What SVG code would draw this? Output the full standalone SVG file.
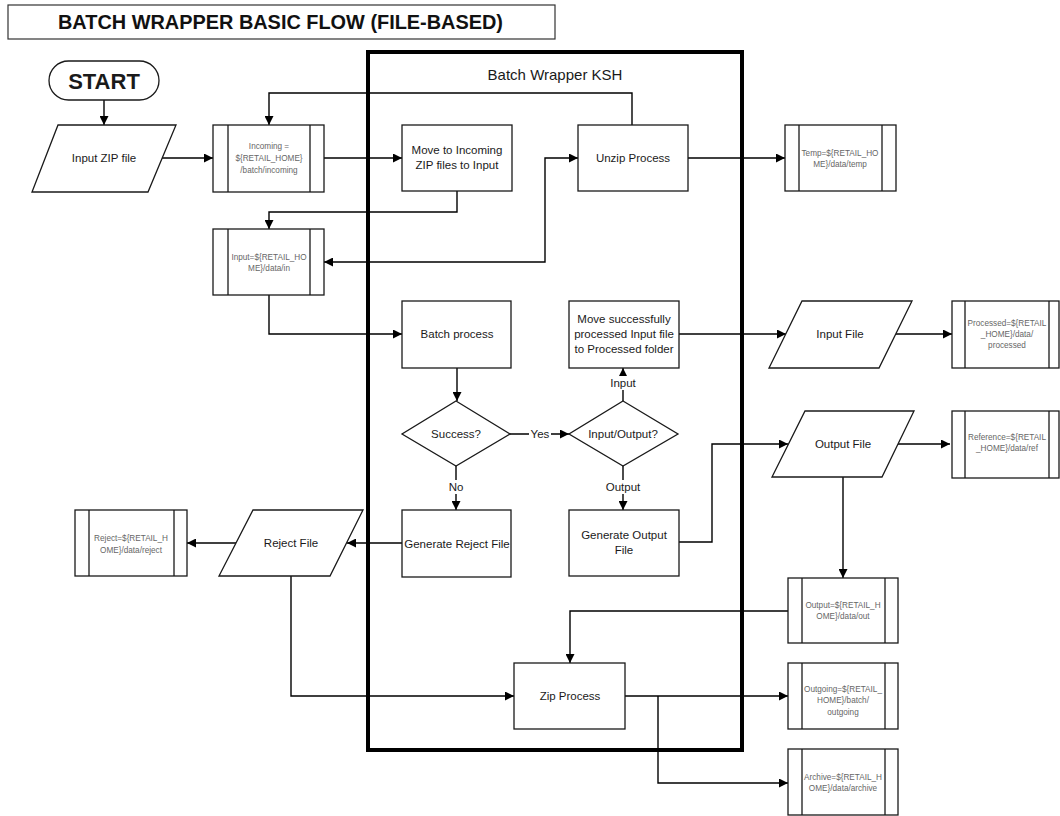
<svg xmlns="http://www.w3.org/2000/svg" width="1060" height="816" viewBox="0 0 1060 816">
  <defs>
    <marker id="arrow" viewBox="0 0 10 10" refX="10" refY="5" markerWidth="9" markerHeight="9" markerUnits="userSpaceOnUse" orient="auto-start-reverse">
      <path d="M0,0 L10,5 L0,10 Z" fill="#000"/>
    </marker>
    <style>
      .shape { fill: #fff; stroke: #1a1a1a; stroke-width: 1.3; }
      .bar { stroke: #1a1a1a; stroke-width: 1.3; fill: none; }
      .conn { fill: none; stroke: #000; stroke-width: 1.4; marker-end: url(#arrow); }
      .lbl { font-family: "Liberation Sans", Arial, sans-serif; font-size: 11.5px; fill: #1a1a1a; text-anchor: middle; dominant-baseline: central; }
      .small { font-family: "Liberation Sans", Arial, sans-serif; font-size: 8.2px; fill: #666; text-anchor: middle; dominant-baseline: central; }
      .edge { font-family: "Liberation Sans", Arial, sans-serif; font-size: 11.5px; fill: #1a1a1a; text-anchor: middle; dominant-baseline: central; }
    </style>
  </defs>

  <rect width="1060" height="816" fill="#fff"/>

  <!-- title banner -->
  <g id="title">
    <rect x="8" y="5" width="547" height="34" fill="#fff" stroke="#333" stroke-width="1.2"/>
    <text x="58" y="29" font-family="'Liberation Sans', Arial, sans-serif" font-weight="bold" font-size="20" fill="#111" textLength="445" lengthAdjust="spacingAndGlyphs">BATCH WRAPPER BASIC FLOW (FILE-BASED)</text>
  </g>

  <!-- swimlane container -->
  <g id="ksh-container">
    <rect x="368" y="52" width="374" height="698" fill="none" stroke="#000" stroke-width="4"/>
    <text x="555" y="74" class="lbl" style="font-size:15px">Batch Wrapper KSH</text>
  </g>

  <!-- connectors -->
  <g id="connectors">
    <path class="conn" d="M104,100 V125"/>
    <path class="conn" d="M162,158 H213"/>
    <path class="conn" d="M324,158 H402"/>
    <path class="conn" d="M632,125 V93 H269 V125"/>
    <path class="conn" d="M457,191 V212 H269 V229"/>
    <path class="conn" d="M324,262 H545 V158 H578" style="marker-start:url(#arrow)"/>
    <path class="conn" d="M688,158 H785"/>
    <path class="conn" d="M269,295 V334 H402"/>
    <path class="conn" d="M457,368 V401"/>
    <path class="conn" d="M510,434 H569"/>
    <path class="conn" d="M623,401 V368"/>
    <path class="conn" d="M623,466 V510"/>
    <path class="conn" d="M456,466 V510"/>
    <path class="conn" d="M679,334 H786"/>
    <path class="conn" d="M896,334 H952"/>
    <path class="conn" d="M679,542 H712 V444 H788"/>
    <path class="conn" d="M898,444 H950"/>
    <path class="conn" d="M843,477 V578"/>
    <path class="conn" d="M788,611 H570 V663"/>
    <path class="conn" d="M402,543 H347"/>
    <path class="conn" d="M236,543 H187"/>
    <path class="conn" d="M291,576 V696 H514"/>
    <path class="conn" d="M625,696 H788"/>
    <path class="conn" d="M658,696 V783 H788"/>
    <!-- edge labels -->
    <rect x="529" y="427" width="22" height="14" fill="#fff"/>
    <text class="edge" x="540" y="434">Yes</text>
    <rect x="607" y="376" width="32" height="14" fill="#fff"/>
    <text class="edge" x="623" y="383">Input</text>
    <rect x="603" y="480" width="40" height="14" fill="#fff"/>
    <text class="edge" x="623" y="487">Output</text>
    <rect x="446" y="480" width="20" height="14" fill="#fff"/>
    <text class="edge" x="456" y="487">No</text>
  </g>

  <!-- nodes -->
  <g id="start">
    <rect x="49" y="61" width="110" height="39" rx="19.5" class="shape"/>
    <text x="104" y="81" class="lbl" style="font-size:22px;font-weight:bold">START</text>
  </g>

  <g id="input-zip-file">
    <polygon points="58,125 176,125 148,192 32,192" class="shape"/>
    <text x="104" y="158" class="lbl">Input ZIP file</text>
  </g>

  <g id="incoming-dir">
    <rect x="213" y="125" width="111" height="67" class="shape"/>
    <path class="bar" d="M228,125 V192 M310,125 V192"/>
    <text class="small" x="269" y="146">Incoming =</text>
    <text class="small" x="269" y="158">${RETAIL_HOME}</text>
    <text class="small" x="269" y="170">/batch/incoming</text>
  </g>

  <g id="move-incoming">
    <rect x="402" y="125" width="110" height="66" class="shape"/>
    <text class="lbl" x="457" y="150">Move to Incoming</text>
    <text class="lbl" x="457" y="165">ZIP files to Input</text>
  </g>

  <g id="unzip-process">
    <rect x="578" y="125" width="110" height="66" class="shape"/>
    <text class="lbl" x="633" y="158">Unzip Process</text>
  </g>

  <g id="temp-dir">
    <rect x="785" y="125" width="111" height="66" class="shape"/>
    <path class="bar" d="M799,125 V191 M882,125 V191"/>
    <text class="small" x="840" y="153">Temp=${RETAIL_HO</text>
    <text class="small" x="840" y="164">ME}/data/temp</text>
  </g>

  <g id="input-dir">
    <rect x="213" y="229" width="111" height="66" class="shape"/>
    <path class="bar" d="M228,229 V295 M310,229 V295"/>
    <text class="small" x="269" y="257">Input=${RETAIL_HO</text>
    <text class="small" x="269" y="268">ME}/data/in</text>
  </g>

  <g id="batch-process">
    <rect x="402" y="301" width="109" height="67" class="shape"/>
    <text class="lbl" x="457" y="334">Batch process</text>
  </g>

  <g id="move-processed">
    <rect x="569" y="301" width="110" height="67" class="shape"/>
    <text class="lbl" x="624" y="319">Move successfully</text>
    <text class="lbl" x="624" y="334">processed Input file</text>
    <text class="lbl" x="624" y="349">to Processed folder</text>
  </g>

  <g id="success-decision">
    <polygon points="456,401 510,434 456,466 402,434" class="shape"/>
    <text class="lbl" x="456" y="434">Success?</text>
  </g>

  <g id="io-decision">
    <polygon points="623,401 678,434 623,466 569,434" class="shape"/>
    <text class="lbl" x="623" y="434">Input/Output?</text>
  </g>

  <g id="generate-reject">
    <rect x="402" y="510" width="109" height="67" class="shape"/>
    <text class="lbl" x="457" y="544">Generate Reject File</text>
  </g>

  <g id="generate-output">
    <rect x="569" y="510" width="110" height="66" class="shape"/>
    <text class="lbl" x="624" y="535">Generate Output</text>
    <text class="lbl" x="624" y="550">File</text>
  </g>

  <g id="input-file">
    <polygon points="802,301 912,301 879,368 769,368" class="shape"/>
    <text class="lbl" x="840" y="334">Input File</text>
  </g>

  <g id="processed-dir">
    <rect x="952" y="301" width="107" height="67" class="shape"/>
    <path class="bar" d="M965,301 V368 M1049,301 V368"/>
    <text class="small" x="1007" y="323">Processed=${RETAIL</text>
    <text class="small" x="1007" y="334">_HOME}/data/</text>
    <text class="small" x="1007" y="345">processed</text>
  </g>

  <g id="output-file">
    <polygon points="805,411 914,411 882,477 772,477" class="shape"/>
    <text class="lbl" x="843" y="444">Output File</text>
  </g>

  <g id="reference-dir">
    <rect x="952" y="411" width="107" height="67" class="shape"/>
    <path class="bar" d="M965,411 V478 M1049,411 V478"/>
    <text class="small" x="1007" y="437">Reference=${RETAIL</text>
    <text class="small" x="1007" y="448">_HOME}/data/ref</text>
  </g>

  <g id="output-dir">
    <rect x="788" y="578" width="110" height="65" class="shape"/>
    <path class="bar" d="M802,578 V643 M885,578 V643"/>
    <text class="small" x="843" y="605">Output=${RETAIL_H</text>
    <text class="small" x="843" y="616">OME}/data/out</text>
  </g>

  <g id="reject-file">
    <polygon points="253,510 363,510 330,576 219,576" class="shape"/>
    <text class="lbl" x="291" y="543">Reject File</text>
  </g>

  <g id="reject-dir">
    <rect x="75" y="510" width="112" height="66" class="shape"/>
    <path class="bar" d="M89,510 V576 M174,510 V576"/>
    <text class="small" x="131" y="538">Reject=${RETAIL_H</text>
    <text class="small" x="131" y="550">OME}/data/reject</text>
  </g>

  <g id="zip-process">
    <rect x="514" y="663" width="111" height="66" class="shape"/>
    <text class="lbl" x="570" y="696">Zip Process</text>
  </g>

  <g id="outgoing-dir">
    <rect x="788" y="663" width="110" height="66" class="shape"/>
    <path class="bar" d="M802,663 V729 M885,663 V729"/>
    <text class="small" x="843" y="689">Outgoing=${RETAIL_</text>
    <text class="small" x="843" y="700">HOME}/batch/</text>
    <text class="small" x="843" y="712">outgoing</text>
  </g>

  <g id="archive-dir">
    <rect x="788" y="749" width="110" height="66" class="shape"/>
    <path class="bar" d="M802,749 V815 M885,749 V815"/>
    <text class="small" x="843" y="777">Archive=${RETAIL_H</text>
    <text class="small" x="843" y="788">OME}/data/archive</text>
  </g>
</svg>
